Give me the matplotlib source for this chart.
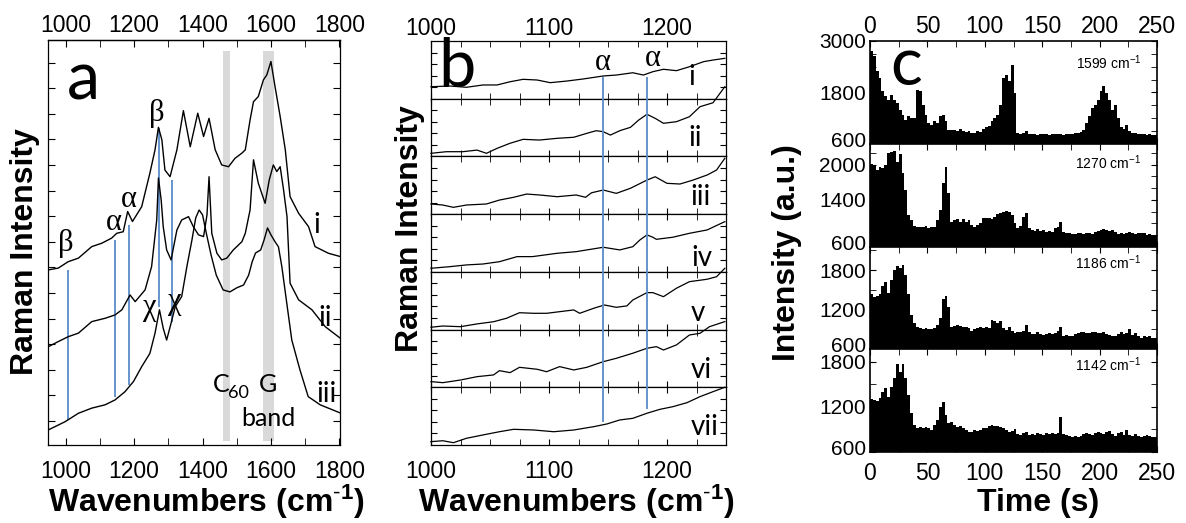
import matplotlib
matplotlib.use('Agg')
import matplotlib.pyplot as plt
import matplotlib.transforms as mtransforms
import numpy as np
from matplotlib.ticker import MultipleLocator, FixedLocator

plt.rcParams['font.family'] = ['Liberation Sans', 'DejaVu Sans']
plt.rcParams['mathtext.fontset'] = 'custom'
plt.rcParams['mathtext.rm'] = 'Liberation Sans'
plt.rcParams['mathtext.bf'] = 'Liberation Sans:bold'
plt.rcParams['mathtext.it'] = 'Liberation Sans:italic'
plt.rcParams['axes.linewidth'] = 0.9

# ---------------- data: panel a (Raman spectra i, ii, iii) ----------------
a_wn_i = [949, 978, 1007, 1037, 1076, 1105, 1134, 1149, 1168, 1181, 1195, 1222, 1246, 1261, 1271,
          1281, 1290, 1305, 1325, 1344, 1364, 1386, 1403, 1419, 1437, 1456, 1476, 1495, 1515, 1525,
          1539, 1549, 1563, 1578, 1588, 1600, 1612, 1627, 1642, 1656, 1681, 1710, 1729, 1768, 1803]
a_int_i = [5.90, 5.97, 6.22, 6.36, 6.81, 6.94, 7.14, 7.33, 7.39, 8.18, 7.79, 8.37, 9.68, 10.59, 11.47,
           10.98, 9.80, 9.54, 10.59, 12.12, 10.71, 12.02, 11.11, 11.82, 10.59, 10.00, 9.93, 10.26, 10.46, 10.59,
           11.76, 12.47, 12.67, 13.32, 13.52, 14.04, 13.06, 11.89, 10.59, 8.76, 8.11, 7.59, 6.81, 6.55, 6.42]

a_wn_ii = [949, 978, 1007, 1037, 1076, 1115, 1144, 1164, 1188, 1203, 1232, 1251, 1266, 1271, 1279,
           1285, 1295, 1308, 1325, 1339, 1359, 1373, 1388, 1403, 1413, 1419, 1427, 1442, 1456, 1471,
           1490, 1515, 1525, 1539, 1549, 1563, 1583, 1595, 1607, 1617, 1627, 1637, 1647, 1656, 1681,
           1720, 1759, 1803]
a_int_ii = [2.90, 3.10, 3.29, 3.43, 3.88, 4.01, 4.14, 4.34, 4.92, 4.66, 5.12, 6.03, 7.85, 9.49, 8.63,
            7.59, 6.68, 6.29, 7.46, 7.85, 7.98, 7.59, 7.27, 7.20, 8.05, 9.54, 7.33, 6.55, 6.29, 6.36,
            6.68, 7.00, 7.33, 8.24, 10.20, 9.29, 8.50, 9.41, 10.00, 9.74, 9.93, 9.02, 7.98, 5.38, 4.73,
            4.34, 3.68, 3.23]

a_wn_iii = [949, 998, 1037, 1076, 1115, 1144, 1173, 1198, 1222, 1246, 1261, 1274, 1285, 1295, 1308,
            1320, 1339, 1355, 1369, 1380, 1390, 1400, 1412, 1425, 1440, 1460, 1480, 1500, 1520, 1535,
            1545, 1555, 1570, 1580, 1590, 1600, 1612, 1622, 1632, 1645, 1661, 1685, 1709, 1744, 1803]
a_int_iii = [-0.35, -0.03, 0.30, 0.50, 0.63, 0.82, 1.14, 1.54, 2.12, 2.64, 3.43, 4.34, 3.62, 3.16, 3.82,
             4.46, 4.86, 6.09, 7.07, 7.93, 8.24, 8.05, 7.27, 6.48, 5.70, 5.12, 5.04, 5.20, 5.31, 5.70,
             6.21, 6.56, 6.68, 7.07, 7.54, 7.27, 7.00, 6.80, 6.02, 4.73, 3.16, 1.99, 0.95, 0.63, 0.31]

a_mark_wn = [1006, 1144, 1185, 1273, 1310]          # blue peak markers
a_mark_lo = [0.04, 0.95, 1.41, 4.46, 3.88]
a_mark_hi = [5.90, 7.07, 7.66, 11.45, 9.41]
a_bands = [(1459, 1481), (1576, 1609)]              # C60 and G band shading
a_ticks = [1000, 1200, 1400, 1600, 1800]

# ---------------- data: panel b (seven spectra, 1000-1250 cm-1) ----------------
b_wn_1 = [1000, 1016, 1030, 1044, 1056, 1067, 1078, 1090, 1101, 1115, 1129, 1146, 1157, 1171, 1180,
          1188, 1197, 1208, 1219, 1231, 1239, 1249]
b_int_1 = [1.04, 1.10, 0.99, 1.19, 1.19, 1.47, 1.68, 1.62, 1.39, 1.53, 1.71, 1.97, 2.05, 2.25, 2.05,
           2.34, 2.55, 2.43, 2.77, 3.21, 3.35, 3.50]
b_wn_2 = [1000, 1013, 1027, 1039, 1047, 1056, 1067, 1078, 1092, 1107, 1121, 1132, 1140, 1146, 1152,
          1160, 1169, 1176, 1183, 1190, 1197, 1208, 1219, 1228, 1239, 1249]
b_int_2 = [0.27, 0.41, 0.41, 0.55, 0.27, 0.70, 1.14, 1.48, 1.42, 1.57, 1.66, 2.00, 2.23, 2.14, 1.85,
           2.23, 2.52, 3.15, 3.65, 3.30, 2.87, 3.01, 3.44, 4.31, 4.65, 6.04]
b_wn_3 = [1000, 1010, 1019, 1030, 1047, 1058, 1070, 1081, 1092, 1107, 1123, 1131, 1136, 1146, 1157,
          1169, 1183, 1190, 1200, 1211, 1222, 1234, 1242, 1249]
b_int_3 = [0.88, 0.79, 0.59, 0.79, 0.88, 1.22, 1.46, 1.74, 1.66, 1.51, 1.66, 1.46, 1.85, 2.09, 1.80,
           2.24, 2.95, 3.24, 2.67, 2.61, 2.95, 3.39, 3.82, 4.84]
b_wn_4 = [1000, 1016, 1030, 1044, 1058, 1073, 1086, 1107, 1123, 1146, 1160, 1171, 1177, 1183, 1188,
          1191, 1205, 1219, 1234, 1249]
b_int_4 = [0.31, 0.45, 0.60, 0.68, 0.88, 1.32, 1.32, 1.61, 1.75, 2.13, 1.90, 2.18, 2.76, 3.20, 3.00,
           2.82, 3.00, 3.34, 3.63, 4.35]
b_wn_5 = [1000, 1010, 1025, 1039, 1053, 1064, 1075, 1087, 1098, 1109, 1121, 1126, 1138, 1147, 1157,
          1166, 1171, 1183, 1188, 1197, 1208, 1219, 1234, 1242, 1249]
b_int_5 = [0.20, 0.31, 0.25, 0.49, 0.68, 0.98, 1.46, 1.41, 1.41, 1.55, 1.70, 1.41, 1.85, 2.13, 1.93,
           2.05, 2.56, 3.20, 3.20, 2.85, 3.58, 4.15, 4.36, 4.58, 5.31]
b_wn_6 = [1000, 1010, 1025, 1039, 1053, 1058, 1067, 1075, 1090, 1098, 1109, 1121, 1132, 1146, 1157,
          1171, 1183, 1191, 1197, 1208, 1219, 1228, 1236, 1249]
b_int_6 = [0.49, 0.40, 0.63, 0.92, 1.07, 1.44, 1.27, 1.73, 1.56, 1.35, 1.79, 1.50, 1.73, 2.22, 2.51,
           2.95, 3.38, 3.52, 3.23, 3.67, 4.53, 4.68, 5.25, 5.69]
b_wn_7 = [1000, 1010, 1019, 1030, 1044, 1058, 1070, 1087, 1104, 1121, 1138, 1149, 1160, 1171, 1183,
          1194, 1205, 1217, 1228, 1239, 1249]
b_int_7 = [0.29, 0.37, 0.20, 0.58, 0.87, 1.15, 1.36, 1.30, 1.15, 1.30, 1.59, 1.82, 2.17, 2.31, 2.75,
           3.09, 3.32, 3.67, 4.19, 4.62, 5.00]
b_labels = ['i', 'ii', 'iii', 'iv', 'v', 'vi', 'vii']
b_mark_wn = [1146, 1183]

# ---------------- data: panel c (time traces, 2.5 s bins) ----------------
c_bin = 2.5
c_1599 = [2760, 2643, 2294, 2138, 1828, 1711, 1633, 1750, 1633, 1556,
          1400, 1284, 1167, 1245, 1206, 1206, 1866, 1828, 1517, 1284,
          1090, 1051, 1128, 1090, 1245, 1284, 1128, 934, 934, 934,
          911, 957, 895, 872, 895, 856, 856, 895, 872, 957,
          989, 1012, 1128, 1206, 1284, 1517, 2138, 2216, 2061, 2449,
          1789, 856, 833, 856, 895, 833, 825, 841, 818, 833,
          825, 833, 818, 841, 825, 833, 841, 818, 833, 825,
          833, 849, 856, 880, 934, 1090, 1245, 1439, 1517, 1633,
          1828, 1944, 1789, 1633, 1400, 1517, 1206, 989, 957, 1035,
          895, 856, 849, 841, 833, 833, 818, 825, 818, 810]
c_1270 = [2009, 1992, 1907, 1964, 1936, 1992, 2190, 2219, 2236, 2049,
          2179, 1851, 1568, 1143, 1058, 957, 934, 945, 934, 957,
          917, 934, 945, 1058, 1228, 1681, 1964, 1511, 1030, 1058,
          1070, 1030, 1070, 1030, 1058, 974, 945, 974, 1013, 1087,
          1087, 1087, 1070, 1115, 1160, 1183, 1200, 1217, 1200, 1143,
          1002, 917, 957, 1115, 1183, 917, 889, 877, 900, 877,
          889, 860, 877, 860, 917, 934, 1030, 860, 843, 832,
          821, 815, 832, 843, 821, 843, 832, 821, 860, 877,
          889, 900, 889, 877, 889, 860, 821, 832, 821, 843,
          860, 832, 821, 843, 832, 843, 804, 815, 804, 798]
c_1186 = [1443, 1393, 1403, 1443, 1553, 1618, 1453, 1654, 1804, 1854,
          1834, 1884, 1719, 1443, 1117, 991, 931, 916, 901, 916,
          901, 901, 916, 966, 1067, 1353, 1403, 1242, 941, 951,
          966, 951, 941, 931, 916, 881, 901, 916, 941, 916,
          931, 916, 1041, 1031, 991, 1031, 916, 891, 941, 866,
          841, 851, 851, 881, 966, 851, 831, 831, 851, 831,
          816, 831, 841, 831, 841, 881, 941, 801, 816, 801,
          801, 831, 841, 851, 851, 841, 841, 851, 851, 841,
          841, 851, 831, 816, 791, 801, 831, 851, 831, 841,
          901, 816, 841, 801, 766, 791, 781, 791, 766, 766]
c_1142 = [1305, 1292, 1278, 1314, 1403, 1447, 1336, 1469, 1580, 1766,
          1669, 1766, 1580, 1358, 1114, 959, 924, 937, 915, 937,
          924, 893, 959, 1026, 1203, 1261, 1092, 981, 995, 959,
          937, 950, 915, 893, 870, 862, 893, 879, 893, 915,
          924, 946, 959, 950, 950, 937, 915, 893, 862, 879,
          906, 835, 826, 848, 862, 826, 835, 826, 848, 835,
          826, 848, 835, 848, 835, 848, 1070, 835, 826, 817,
          804, 817, 804, 817, 835, 848, 835, 826, 848, 862,
          848, 835, 862, 879, 835, 817, 848, 862, 826, 893,
          826, 817, 835, 817, 804, 817, 826, 817, 804, 804]
c_labels = ['1599', '1270', '1186', '1142']

# ---------------- figure ----------------
W, H = 1186, 523
fig = plt.figure(figsize=(W / 100, H / 100), dpi=100)


def ax_px(l, t, r, b):
    return fig.add_axes([l / W, 1 - b / H, (r - l) / W, (b - t) / H])


def ftext(x, y, s, **kw):
    return fig.text(x / W, 1 - y / H, s, **kw)


BLUE = '#5b8bc9'
GRAY = '#d9d9d9'
TICK = 16.5
LAB = 23
SANS2 = ['Lato', 'DejaVu Sans']
SERIF = ['Liberation Serif', 'DejaVu Serif']
XLAB = r'Wavenumbers (cm$^{\text{-}\mathbf{1}}$)'

# ---------------- panel a ----------------
axA = ax_px(48, 40, 340, 445)
for wn, y in [(a_wn_i, a_int_i), (a_wn_ii, a_int_ii), (a_wn_iii, a_int_iii)]:
    axA.plot(wn, y, color='black', lw=1.0)
for lo, hi in a_bands:
    axA.axvspan(lo, hi, ymin=0.01, ymax=0.973, color=GRAY, lw=0, zorder=0)
axA.vlines(a_mark_wn, a_mark_lo, a_mark_hi, color=BLUE, lw=1.3, zorder=1)
axA.set_xlim(948, 1802)
axA.set_ylim(-0.94, 14.88)
axA.xaxis.set_major_locator(FixedLocator(a_ticks))
axA.xaxis.set_minor_locator(FixedLocator([1100, 1300, 1500, 1700]))
axA.yaxis.set_major_locator(MultipleLocator(1))
axA.tick_params(axis='x', which='both', direction='in', top=False, bottom=True,
                labelsize=TICK, pad=10.8, length=5)
axA.tick_params(axis='y', which='both', direction='in', left=True, right=True,
                labelleft=False, length=5)
secA = axA.secondary_xaxis('top')
secA.xaxis.set_major_locator(FixedLocator(a_ticks))
secA.xaxis.set_minor_locator(FixedLocator([1100, 1300, 1500, 1700]))
secA.tick_params(axis='x', which='both', direction='in', labelsize=TICK, pad=2.3, length=5)

ftext(25, 252, 'Raman Intensity', rotation=90, fontsize=LAB, fontweight='bold',
      ha='center', va='center')
ftext(206, 502, XLAB, fontsize=LAB, fontweight='bold', ha='center', va='center')
ftext(83, 80, 'a', fontsize=48, family=SANS2, ha='center', va='center')
for (x, y, s) in [(66, 243, 'β'), (113.5, 223, 'α'), (129, 200, 'α'), (157, 113, 'β'),
                  (150, 307, 'χ'), (175, 301, 'χ')]:
    ftext(x, y, s, fontsize=22, family=SERIF, ha='center', va='center')
for (x, y, s) in [(317, 225, 'i'), (325, 318, 'ii'), (327, 394, 'iii')]:
    ftext(x, y, s, fontsize=20, family=SANS2, ha='center', va='center')
ftext(221, 385, 'C', fontsize=18, family=SANS2, ha='center', va='center')
ftext(238, 393, '60', fontsize=13, family=SANS2, ha='center', va='center')
ftext(268, 385, 'G', fontsize=18, family=SANS2, ha='center', va='center')
ftext(268, 418, 'band', fontsize=18, family=SANS2, ha='center', va='center')

# ---------------- panel b ----------------
b_series = [(b_wn_1, b_int_1), (b_wn_2, b_int_2), (b_wn_3, b_int_3), (b_wn_4, b_int_4),
            (b_wn_5, b_int_5), (b_wn_6, b_int_6), (b_wn_7, b_int_7)]
bt, bb = 41, 445
rh = (bb - bt) / 7
for k, (wn, y) in enumerate(b_series):
    ax = ax_px(431, bt + k * rh, 726, bt + (k + 1) * rh)
    ax.plot(wn, y, color='black', lw=0.9, clip_on=False)
    ax.set_xlim(1000, 1250)
    ax.set_ylim(0, 5)
    ax.xaxis.set_major_locator(MultipleLocator(100))
    ax.xaxis.set_minor_locator(MultipleLocator(25))
    ax.yaxis.set_major_locator(FixedLocator([1, 2, 3, 4]))
    ax.tick_params(axis='both', which='both', direction='in', top=True, bottom=True,
                   left=True, right=True, labelleft=False, labelbottom=False, length=4,
                   labelsize=TICK)
    if k == 0:
        ax.tick_params(axis='x', labeltop=True, pad=0.9)
    if k == 6:
        ax.tick_params(axis='x', labelbottom=True, pad=10.8)

ovB = ax_px(431, bt, 726, bb)
ovB.set_xlim(1000, 1250)
ovB.set_ylim(0, 1)
ovB.axis('off')
ovB.vlines(b_mark_wn, [0.057, 0.089], [0.911, 0.911], color=BLUE, lw=1.3)

ftext(410, 229, 'Raman Intensity', rotation=90, fontsize=LAB, fontweight='bold',
      ha='center', va='center')
ftext(576, 502, XLAB, fontsize=LAB, fontweight='bold', ha='center', va='center')
ftext(457, 68, 'b', fontsize=48, family=SANS2, ha='center', va='center')
ftext(603, 62, 'α', fontsize=22, family=SERIF, ha='center', va='center')
ftext(653, 58, 'α', fontsize=22, family=SERIF, ha='center', va='center')
for (x, y), s in zip([(691.7, 76.7), (695, 138), (700, 196.7), (701.7, 258), (698, 313),
                      (701.7, 370), (705, 426.7)], b_labels):
    ftext(x, y, s, fontsize=20, family=SANS2, ha='center', va='center')

# ---------------- panel c ----------------
c_series = [c_1599, c_1270, c_1186, c_1142]
c_bounds = [41, 144, 247, 349, 452]
c_ylims = [(600, 3000), (600, 2350), (600, 2150), (600, 1970)]
c_ticks = [[600, 1800, 3000], [600, 1400, 2000], [600, 1200, 1800], [600, 1200, 1800]]
c_minor = [300, 200, 300, 300]
c_lab_y = [0.785, 0.82, 0.85, 0.845]
t = np.arange(0, 250, c_bin)
up = mtransforms.ScaledTranslation(0, 3 / 72, fig.dpi_scale_trans)
for k, vals in enumerate(c_series):
    ax = ax_px(870, c_bounds[k], 1157, c_bounds[k + 1])
    lo = c_ylims[k][0]
    ax.bar(t, np.array(vals) - lo, bottom=lo, width=c_bin, align='edge', color='black',
           lw=0)
    ax.set_xlim(0, 250)
    ax.set_ylim(*c_ylims[k])
    ax.set_yticks(c_ticks[k])
    ax.yaxis.set_minor_locator(MultipleLocator(c_minor[k]))
    ax.xaxis.set_major_locator(MultipleLocator(50))
    ax.xaxis.set_minor_locator(MultipleLocator(25))
    ax.tick_params(axis='both', which='both', direction='in', top=True, bottom=True,
                   left=True, right=True, labelbottom=False, length=4)
    ax.tick_params(axis='y', labelsize=15, pad=3)
    ax.tick_params(axis='x', labelsize=TICK)
    for sp in ax.spines.values():
        sp.set_linewidth(1.2)
    if k == 0:
        ax.tick_params(axis='x', labeltop=True, pad=2.3)
    if k == 3:
        ax.tick_params(axis='x', labelbottom=True, pad=7.2)
    lab0 = ax.yaxis.get_major_ticks()[0].label1
    lab0.set_transform(lab0.get_transform() + up)
    ax.text(0.945, c_lab_y[k], c_labels[k] + r' cm$^{-1}$', transform=ax.transAxes,
            fontsize=10, ha='right', va='center')

ftext(787, 253, 'Intensity (a.u.)', rotation=90, fontsize=LAB, fontweight='bold',
      ha='center', va='center')
ftext(1038, 503, 'Time (s)', fontsize=LAB, fontweight='bold', ha='center', va='center')
ftext(906, 66, 'c', fontsize=48, family=SANS2, ha='center', va='center')

fig.savefig('out.png', dpi=100)
